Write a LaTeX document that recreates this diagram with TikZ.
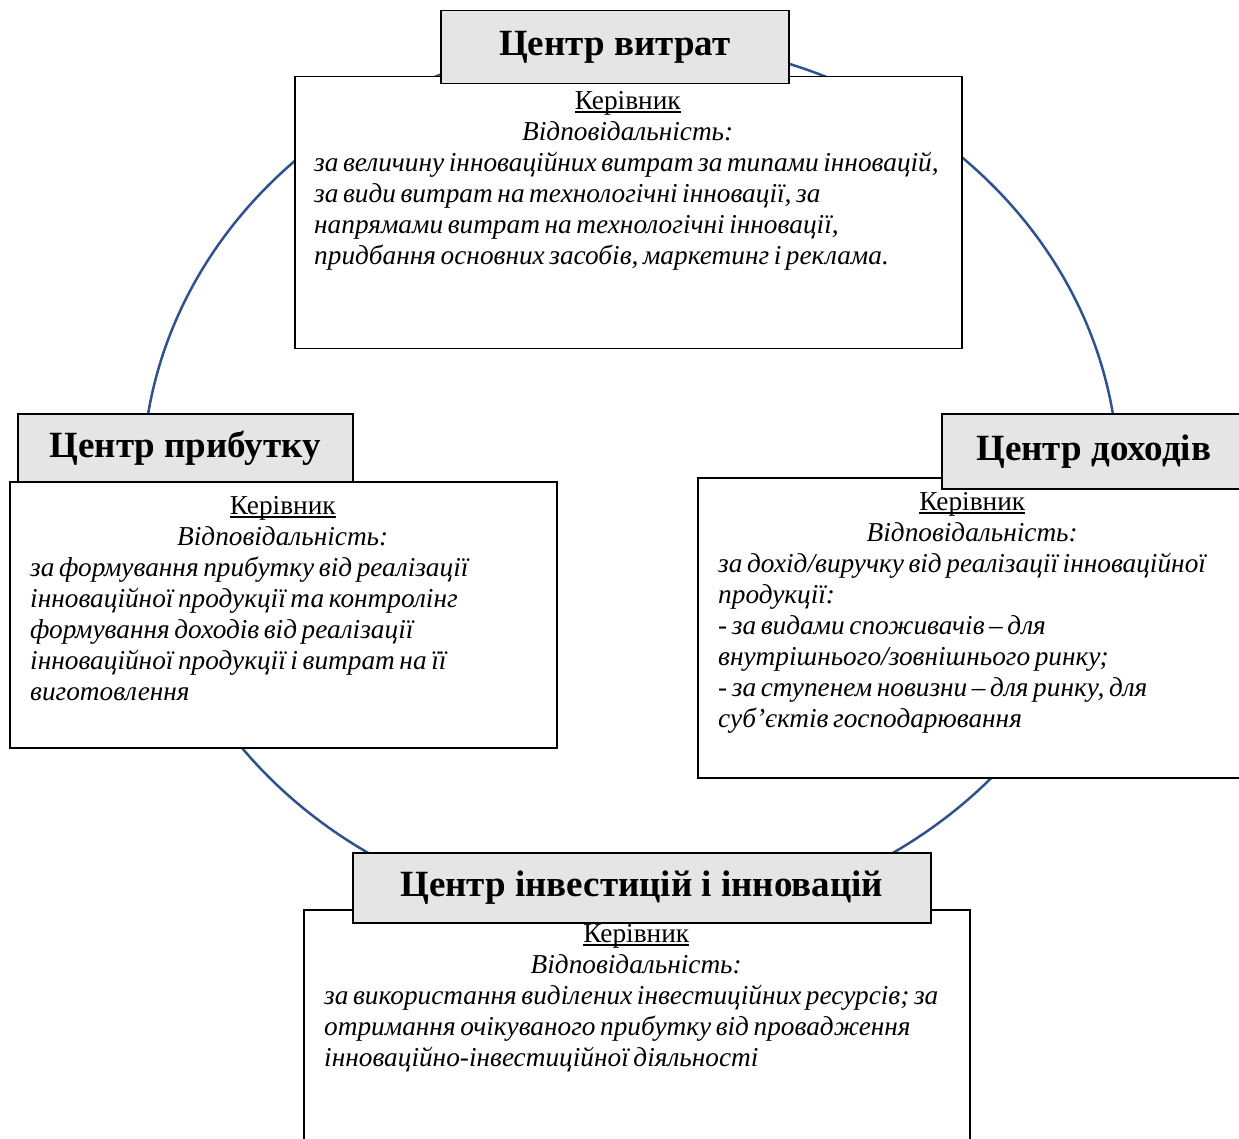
\documentclass[tikz,border=0pt]{standalone}
\usepackage{fontspec}
\setmainfont{Liberation Serif}
\usetikzlibrary{positioning}
\definecolor{orbitblue}{RGB}{47,82,143}
\newsavebox{\bossbox}
\newcommand{\bossline}[1]{\sbox{\bossbox}{#1}\rlap{\rule[-3.5pt]{\wd\bossbox}{1.4pt}}\usebox{\bossbox}}
\newcommand{\bodyfont}{\fontsize{27.3}{31}\selectfont}
\newcommand{\headfont}{\fontsize{37}{43}\selectfont\bfseries}
\newcommand{\boss}{\spaceskip=4.6pt plus 1pt minus 1pt\relax
  \makebox[\hsize]{\upshape\bossline{Керівник}}\\\makebox[\hsize]{Відповідальність:}\\}

\begin{document}
\begin{tikzpicture}[x=1pt,y=-1pt,
  mainbox/.style={draw,line width=1.5pt,fill=white,anchor=north west,inner sep=0pt},
  headbox/.style={draw,line width=1.5pt,fill=black!10,anchor=north west,inner sep=0pt,font=\headfont},
  duty/.style={anchor=north west,inner sep=0pt,text width=#1,align=flush left,font=\bodyfont\itshape},
  orbit/.style={draw=orbitblue,line width=2.5pt}]
\useasboundingbox (0,0) rectangle (1239,1139);
\clip (0,0) rectangle (1239,1139);
% ring behind the centres
\draw[orbit] (630.5,481) ellipse [x radius=488,y radius=441];
% frames
\node[mainbox,minimum width=667pt,minimum height=272pt] (costframe) at (294,76) {};
\node[mainbox,minimum width=547pt,minimum height=266pt] (profitframe) at (9,481) {};
\node[mainbox,minimum width=550pt,minimum height=300pt] (incomeframe) at (697,477) {};
\node[mainbox,minimum width=666pt,minimum height=260pt] (investframe) at (303,909) {};
% titles
\node[headbox,minimum width=348pt,minimum height=73pt] (costhead) at (440,10) {Центр витрат};
\node[headbox,minimum width=335pt,minimum height=68pt] (profithead) at (17,413) {Центр прибутку};
\node[headbox,minimum width=304pt,minimum height=75pt] (incomehead) at (941,413) {Центр доходів};
\node[headbox,minimum width=578pt,minimum height=70pt] (investhead) at (352,852) {Центр інвестицій і інновацій};
% duties
\node[duty=627pt,below right=15pt and 20pt of costframe.north west] (costtext) {\boss
за величину інноваційних витрат за типами інновацій,\\
за види витрат на технологічні інновації, за\\
напрямами витрат на технологічні інновації,\\
придбання основних засобів, маркетинг і реклама.};
\node[duty=505pt,below right=15pt and 21pt of profitframe.north west] (profittext) {\boss
за формування прибутку від реалізації\\
інноваційної продукції та контролінг\\
формування доходів від реалізації\\
інноваційної продукції і витрат на її\\
виготовлення};
\node[duty=508pt,below right=15pt and 21pt of incomeframe.north west] (incometext) {\boss
за дохід/виручку від реалізації інноваційної\\
продукції:\\
{\upshape -} за видами споживачів – для\\
внутрішнього/зовнішнього ринку;\\
{\upshape -} за ступенем новизни – для ринку, для\\
суб’єктів господарювання};
\node[duty=624pt,below right=15pt and 21pt of investframe.north west] (investtext) {\boss
за використання виділених інвестиційних ресурсів; за\\
отримання очікуваного прибутку від провадження\\
інноваційно-інвестиційної діяльності};
\end{tikzpicture}
\end{document}
